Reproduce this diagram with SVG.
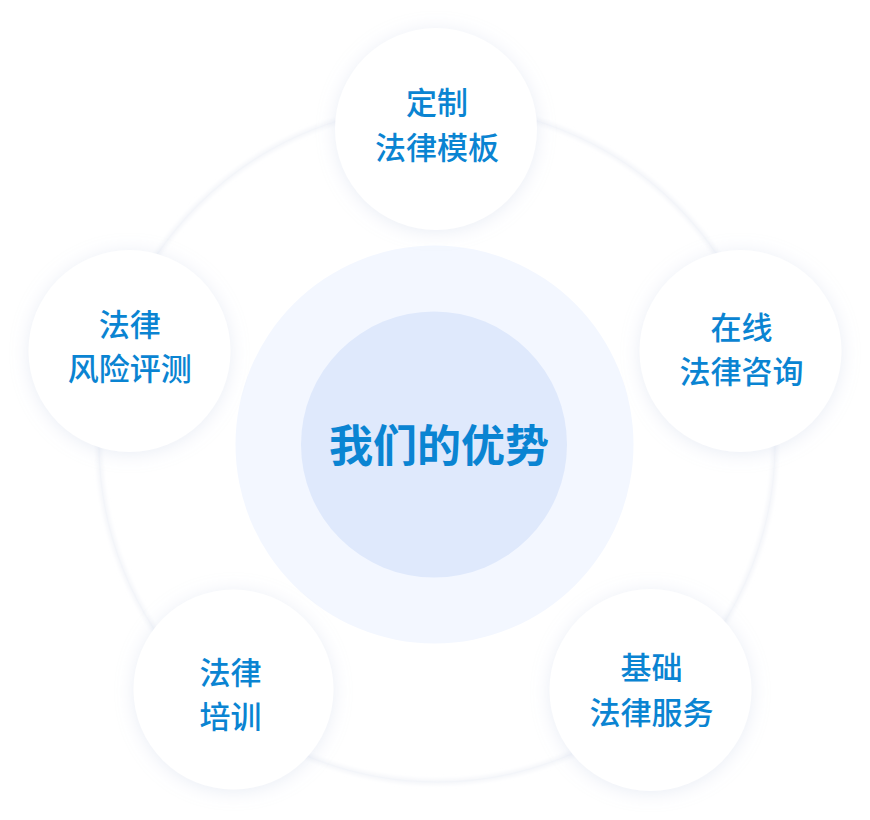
<svg xmlns="http://www.w3.org/2000/svg" width="870" height="820" viewBox="0 0 870 820">
  <defs>
    <filter id="shadow" x="-30%" y="-30%" width="160%" height="160%">
      <feDropShadow dx="0" dy="2" stdDeviation="9" flood-color="#b9c6e0" flood-opacity="0.3"/>
    </filter>
    <filter id="glow" x="-10%" y="-10%" width="120%" height="120%">
      <feGaussianBlur stdDeviation="2"/>
    </filter>
  </defs>
  <style>
    .node { fill: #ffffff; filter: url(#shadow); }
    .label { font-family: "Noto Sans CJK SC", "Noto Sans", sans-serif; font-size: 31px; font-weight: 500; fill: #0a84d2; text-anchor: middle; dominant-baseline: central; }
    .title { font-family: "Noto Sans CJK SC", "Noto Sans", sans-serif; font-size: 44px; font-weight: bold; fill: #0a84d2; text-anchor: middle; dominant-baseline: central; }
  </style>
  <rect width="870" height="820" fill="#ffffff"/>
  <g id="connectors">
    <circle cx="437" cy="444" r="338" fill="none" stroke="#f1f3f8" stroke-width="4" filter="url(#glow)"/>
    <circle cx="437" cy="444" r="338" fill="none" stroke="#f3f5f9" stroke-width="1.2"/>
  </g>
  <g id="center">
    <circle cx="434.5" cy="444.5" r="199" fill="#f3f7ff"/>
    <circle cx="434" cy="444.5" r="133" fill="#dfe9fc"/>
    <text class="title" x="439" y="443">我们的优势</text>
  </g>
  <g id="node-top">
    <circle class="node" cx="436" cy="129" r="101"/>
    <text class="label" x="437" y="100.5">定制</text>
    <text class="label" x="437" y="145">法律模板</text>
  </g>
  <g id="node-right">
    <circle class="node" cx="740.5" cy="351" r="101"/>
    <text class="label" x="741.5" y="325">在线</text>
    <text class="label" x="741.5" y="369">法律咨询</text>
  </g>
  <g id="node-bottom-right">
    <circle class="node" cx="650.5" cy="690" r="101"/>
    <text class="label" x="651.5" y="665.5">基础</text>
    <text class="label" x="651.5" y="710.5">法律服务</text>
  </g>
  <g id="node-bottom-left">
    <circle class="node" cx="233.5" cy="689.5" r="100"/>
    <text class="label" x="230.5" y="670">法律</text>
    <text class="label" x="230.5" y="714">培训</text>
  </g>
  <g id="node-left">
    <circle class="node" cx="129.5" cy="351" r="101"/>
    <text class="label" x="129.7" y="322.5">法律</text>
    <text class="label" x="129.7" y="366.5">风险评测</text>
  </g>
</svg>
